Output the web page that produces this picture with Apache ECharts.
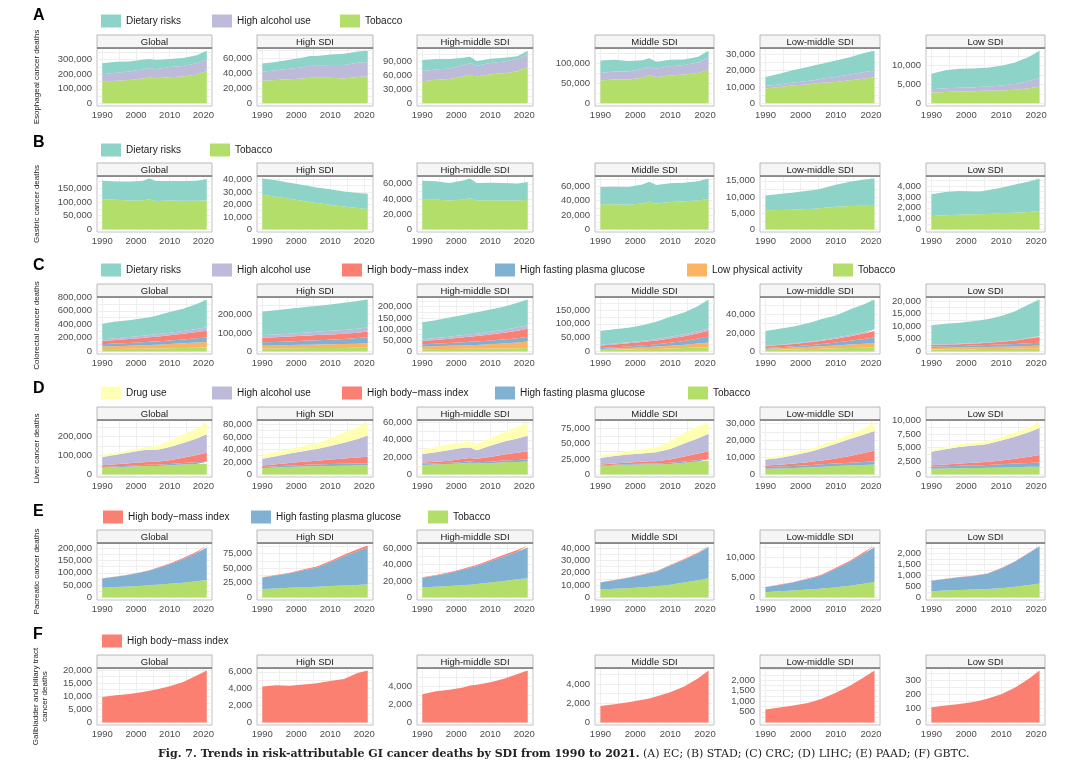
<!DOCTYPE html>
<html lang="en">
<head>
<meta charset="UTF-8">
<title>Fig. 7</title>
<script src="https://cdn.jsdelivr.net/npm/echarts@6/dist/echarts.min.js"></script>
<style>
  html, body { margin: 0; padding: 0; background: #fff; }
  #main { width: 1080px; height: 765px; }
</style>
</head>
<body>
<div id="main"></div>
<script>
// sampled years, shared by every panel
const YEARS = [1990, 1994, 1998, 2002, 2004, 2006, 2010, 2014, 2018, 2021];
const REGIONS = ['Global', 'High SDI', 'High-middle SDI', 'Middle SDI', 'Low-middle SDI', 'Low SDI'];
const X_LABELS = [1990, 2000, 2010, 2020];
const X_GRID = [1990, 1995, 2000, 2005, 2010, 2015, 2020];

// each array: one row per region (Global ... Low SDI), one value per year in YEARS
// A - esophageal
const A_DIET = [
  [76000, 75000, 70000, 68000, 62000, 62000, 55000, 55000, 55000, 60000],
  [11000, 11000, 12000, 13000, 13000, 13000, 14000, 15000, 15000, 15000],
  [23000, 22000, 20000, 16000, 14000, 10000, 9000, 8000, 6000, 7000],
  [31000, 29000, 26000, 22000, 22000, 17000, 16000, 14000, 15000, 17000],
  [5500, 6500, 7500, 8500, 9000, 9000, 10000, 10500, 11500, 12000],
  [4100, 4700, 5000, 5000, 4900, 5000, 5200, 5700, 6400, 7200]
];
const A_ALC = [
  [52000, 55000, 58000, 62000, 65000, 63000, 70000, 72000, 78000, 80000],
  [12000, 13000, 14000, 15000, 16000, 16000, 17000, 18000, 19000, 19000],
  [22000, 22000, 22000, 24000, 25000, 23000, 24000, 25000, 26000, 27000],
  [19000, 20000, 20000, 22000, 21000, 21000, 23000, 24000, 26000, 30000],
  [1500, 1500, 1700, 2000, 2200, 2500, 3000, 3500, 4000, 4000],
  [900, 1000, 1000, 1000, 1100, 1100, 1300, 1500, 1900, 2300]
];
const A_TOB = [
  [148000, 155000, 160000, 170000, 178000, 172000, 180000, 185000, 198000, 222000],
  [30000, 31000, 32000, 33000, 34000, 34000, 34000, 33000, 35000, 36000],
  [47000, 50000, 52000, 57000, 60000, 57000, 62000, 64000, 68000, 78000],
  [57000, 60000, 60000, 64000, 70000, 66000, 70000, 72000, 76000, 85000],
  [9000, 10000, 11000, 11500, 12000, 12500, 13000, 14000, 15000, 16000],
  [2800, 3000, 3100, 3200, 3300, 3300, 3400, 3600, 4000, 4400]
];
const A_TICKS = [[0, 100000, 200000, 300000], [0, 20000, 40000, 60000], [0, 30000, 60000, 90000],
  [0, 50000, 100000], [0, 10000, 20000, 30000], [0, 5000, 10000]];

// B - gastric
const B_DIET = [
  [66000, 66000, 68000, 71000, 76000, 73000, 71000, 72000, 73000, 77000],
  [13000, 13200, 12800, 12700, 12600, 12300, 12300, 12000, 12000, 12200],
  [24000, 24000, 23000, 25000, 26000, 23000, 23000, 23000, 22500, 23500],
  [23700, 24000, 24700, 26000, 27500, 25500, 26000, 25500, 26500, 28400],
  [4600, 4900, 5300, 5600, 5800, 6000, 6800, 7500, 8000, 8100],
  [2000, 2150, 2200, 2100, 2100, 2200, 2350, 2600, 2800, 3000]
];
const B_TOB = [
  [111000, 108000, 105000, 106000, 109000, 103000, 105000, 104000, 104000, 106000],
  [27700, 26200, 24500, 22800, 22000, 21200, 19800, 18400, 17200, 16300],
  [40000, 39500, 38000, 39500, 41000, 38000, 38500, 38000, 38000, 39000],
  [35000, 35000, 34000, 36000, 38500, 36000, 38000, 39000, 40000, 42000],
  [5900, 6000, 6100, 6300, 6400, 6600, 7000, 7200, 7400, 7600],
  [1250, 1300, 1350, 1400, 1400, 1420, 1500, 1550, 1620, 1700]
];
const B_TICKS = [[0, 50000, 100000, 150000], [0, 10000, 20000, 30000, 40000], [0, 20000, 40000, 60000],
  [0, 20000, 40000, 60000], [0, 5000, 10000, 15000], [0, 1000, 2000, 3000, 4000]];

// C - colorectal
const C_DIET = [
  [230000, 245000, 249000, 259000, 262000, 272000, 303000, 327000, 369000, 410000],
  [128000, 131000, 135000, 137000, 138500, 140000, 143000, 147000, 150000, 150000],
  [76000, 80500, 86500, 90000, 93500, 95500, 100500, 104000, 110000, 115000],
  [50000, 51500, 53000, 56500, 60000, 63000, 73000, 79000, 91500, 104000],
  [15900, 17200, 18300, 20200, 21200, 22600, 24000, 27500, 30000, 32000],
  [7700, 8160, 8410, 8730, 8990, 9240, 10120, 11460, 13340, 14600]
];
const C_ALC = [
  [25000, 27000, 29000, 32000, 34000, 35000, 38000, 42000, 46000, 50000],
  [14000, 15000, 16000, 17000, 17500, 18000, 19000, 20000, 21500, 23000],
  [7000, 8000, 9000, 10000, 10500, 11000, 12000, 13000, 15000, 16000],
  [2500, 3000, 3500, 4000, 4500, 5000, 6000, 7000, 8000, 9000],
  [400, 500, 600, 700, 800, 900, 1100, 1400, 1700, 2000],
  [100, 110, 120, 130, 140, 150, 180, 210, 260, 300]
];
const C_BMI = [
  [48000, 53000, 58000, 64000, 67000, 70000, 77000, 84000, 92000, 98000],
  [25000, 25500, 26000, 27000, 27500, 28000, 28500, 29000, 29500, 30000],
  [15000, 17000, 19000, 22000, 23000, 24000, 27000, 30000, 34000, 37000],
  [9500, 10500, 11500, 12500, 13000, 14000, 15500, 17000, 19000, 21000],
  [1900, 2200, 2600, 3000, 3300, 3600, 4300, 5000, 6000, 6800],
  [600, 650, 700, 800, 850, 900, 1100, 1400, 1900, 2300]
];
const C_HFPG = [
  [34000, 37000, 40000, 44000, 46000, 48000, 53000, 58000, 63000, 67000],
  [18000, 19000, 20000, 21500, 22000, 23000, 25000, 27000, 30000, 33000],
  [10000, 11000, 12500, 14000, 15000, 15500, 16500, 17500, 19000, 20000],
  [3500, 4500, 5500, 7000, 7500, 8500, 11000, 14000, 18000, 22000],
  [800, 1100, 1400, 1800, 2000, 2300, 3000, 4000, 5200, 6400],
  [600, 630, 670, 720, 750, 780, 850, 950, 1050, 1100]
];
const C_LPA = [
  [38000, 41000, 45000, 50000, 53000, 56000, 62000, 68000, 75000, 82000],
  [15000, 16000, 17000, 18000, 18500, 19000, 20000, 21000, 22500, 24000],
  [12000, 13000, 14000, 15500, 16000, 17000, 19000, 22000, 26000, 29000],
  [3500, 4500, 5500, 7000, 7500, 8500, 10000, 12000, 14500, 16500],
  [1500, 1700, 2000, 2300, 2500, 2700, 3200, 3800, 4300, 4600],
  [600, 630, 670, 720, 750, 780, 850, 950, 1080, 1200]
];
const C_TOB = [
  [35000, 37000, 39000, 41000, 43000, 44000, 47000, 51000, 55000, 58000],
  [16000, 16500, 17000, 17500, 18000, 18000, 18500, 19000, 19500, 20000],
  [10000, 10500, 11000, 11500, 12000, 12000, 13000, 13500, 14000, 15000],
  [5000, 6000, 7000, 8000, 8500, 9000, 10500, 12000, 14000, 15500],
  [1500, 1800, 2100, 2500, 2700, 2900, 3300, 3600, 3900, 4200],
  [800, 820, 850, 900, 920, 950, 1000, 1030, 1070, 1100]
];
const C_TICKS = [[0, 200000, 400000, 600000, 800000], [0, 100000, 200000], [0, 50000, 100000, 150000, 200000],
  [0, 50000, 100000, 150000], [0, 20000, 40000], [0, 5000, 10000, 15000, 20000]];

// D - liver
const D_DRUG = [
  [11000, 11500, 11000, 12500, 16000, 21000, 31500, 45500, 51500, 62000],
  [6100, 6800, 7600, 7900, 8800, 9200, 12500, 16400, 19100, 20800],
  [4900, 6200, 6600, 6000, 6900, 6900, 8700, 11000, 13300, 15100],
  [3700, 4300, 5700, 7100, 7700, 8000, 12300, 17000, 19200, 18000],
  [1000, 1100, 1300, 1500, 1700, 1800, 2200, 2600, 3500, 4900],
  [360, 400, 450, 500, 500, 550, 600, 750, 900, 1000]
];
const D_ALC = [
  [44000, 50000, 57000, 63000, 64000, 62000, 70000, 78000, 88000, 97000],
  [10500, 13000, 15000, 17000, 18000, 19000, 21500, 25000, 30000, 34000],
  [10000, 11000, 12500, 13000, 12000, 10000, 13000, 15000, 16500, 18000],
  [10800, 12000, 13000, 13500, 14000, 14500, 17000, 21000, 25000, 28500],
  [3500, 4000, 4800, 5800, 6400, 7200, 8600, 10000, 10800, 11400],
  [2500, 2800, 3100, 3200, 3200, 3300, 3700, 4100, 4600, 5000]
];
const D_BMI = [
  [9000, 11000, 13000, 15000, 15000, 15500, 20000, 28000, 38000, 48000],
  [2400, 3000, 4000, 5000, 5500, 6000, 7500, 8500, 9500, 10500],
  [1500, 2000, 2500, 3500, 4000, 4000, 5500, 7000, 8500, 9500],
  [1500, 2000, 2500, 3000, 3500, 4000, 5500, 8000, 10500, 12500],
  [900, 1100, 1400, 1800, 2000, 2300, 3000, 4000, 5300, 6400],
  [260, 320, 400, 480, 520, 560, 700, 900, 1150, 1400]
];
const D_HFPG = [
  [4000, 4500, 5000, 5500, 6000, 6500, 7500, 8500, 9500, 10000],
  [2000, 2200, 2400, 2600, 2700, 2800, 3000, 3100, 3200, 3300],
  [1200, 1300, 1400, 1500, 1600, 1600, 1800, 2000, 2200, 2400],
  [1100, 1200, 1300, 1400, 1500, 1500, 1700, 2000, 2300, 2500],
  [1000, 1100, 1200, 1300, 1350, 1400, 1500, 1600, 1800, 1900],
  [380, 420, 460, 500, 520, 540, 600, 660, 720, 760]
];
const D_TOB = [
  [35000, 38000, 41000, 44000, 45000, 45000, 48000, 52000, 55000, 57000],
  [10000, 11000, 12000, 12500, 13000, 13000, 13500, 14000, 14200, 14400],
  [11000, 11500, 12000, 13000, 13500, 12500, 13000, 14000, 14500, 15000],
  [13400, 14500, 15500, 16000, 16300, 16000, 17000, 19000, 21000, 22500],
  [3300, 3500, 3800, 4100, 4300, 4500, 4900, 5200, 5500, 5800],
  [1060, 1100, 1140, 1180, 1200, 1220, 1280, 1340, 1400, 1440]
];
const D_TICKS = [[0, 100000, 200000], [0, 20000, 40000, 60000, 80000], [0, 20000, 40000, 60000],
  [0, 25000, 50000, 75000], [0, 10000, 20000, 30000], [0, 2500, 5000, 7500, 10000]];

// E - pancreatic
const E_BMI = [
  [600, 800, 1100, 1500, 1800, 2100, 3000, 4200, 5800, 7500],
  [600, 800, 1000, 1300, 1500, 1700, 2200, 2700, 3200, 3600],
  [500, 700, 900, 1100, 1200, 1300, 1600, 1900, 2100, 2200],
  [100, 150, 200, 300, 350, 400, 500, 700, 900, 1000],
  [50, 70, 90, 120, 140, 160, 220, 280, 340, 380],
  [8, 9, 10, 12, 13, 14, 17, 21, 26, 30]
];
const E_HFPG = [
  [37500, 42000, 48000, 56000, 60000, 66000, 80000, 96000, 114000, 132000],
  [19500, 22000, 25000, 29000, 31000, 33000, 41000, 50000, 58000, 63000],
  [11800, 13500, 16000, 19000, 20500, 22000, 26000, 30000, 33500, 37500],
  [5600, 7000, 8400, 10000, 11000, 11800, 15500, 18500, 21500, 25500],
  [1250, 1600, 2050, 2600, 2900, 3300, 4600, 5900, 7500, 8600],
  [480, 530, 580, 620, 660, 700, 900, 1150, 1460, 1700]
];
const E_TOB = [
  [39500, 42000, 44000, 47000, 49000, 51000, 55000, 60000, 66000, 71000],
  [14500, 15500, 16500, 17500, 18000, 18500, 19500, 20500, 21500, 22400],
  [12200, 13000, 13800, 14800, 15500, 16200, 18000, 20000, 22000, 23300],
  [6500, 7000, 7500, 8200, 8600, 9000, 10300, 12000, 14000, 15500],
  [1300, 1500, 1700, 1950, 2050, 2200, 2500, 2900, 3400, 3850],
  [280, 310, 340, 360, 370, 380, 420, 480, 560, 630]
];
const E_TICKS = [[0, 50000, 100000, 150000, 200000], [0, 25000, 50000, 75000], [0, 20000, 40000, 60000],
  [0, 10000, 20000, 30000, 40000], [0, 5000, 10000], [0, 500, 1000, 1500, 2000]];

// F - gallbladder and biliary tract
const F_BMI = [
  [9700, 10400, 10900, 11600, 12100, 12600, 13800, 15400, 17900, 19800],
  [4250, 4400, 4350, 4500, 4550, 4650, 4900, 5150, 5850, 6150],
  [3100, 3420, 3600, 3850, 4050, 4150, 4430, 4800, 5330, 5700],
  [1700, 1900, 2100, 2350, 2500, 2700, 3150, 3750, 4600, 5400],
  [615, 700, 800, 920, 1010, 1120, 1400, 1730, 2130, 2450],
  [108, 122, 133, 147, 158, 170, 203, 250, 315, 372]
];
const F_TICKS = [[0, 5000, 10000, 15000, 20000], [0, 2000, 4000, 6000], [0, 2000, 4000],
  [0, 2000, 4000], [0, 500, 1000, 1500, 2000], [0, 100, 200, 300]];

// ggplot Set3 colours
const COLORS = {
  'Dietary risks': '#8DD3C7',
  'Drug use': '#FFFFB3',
  'High alcohol use': '#BEBADA',
  'High body\u2212mass index': '#FB8072',
  'High fasting plasma glucose': '#80B1D3',
  'Low physical activity': '#FDB462',
  'Tobacco': '#B3DE69'
};
const BMI = 'High body\u2212mass index';

// stack lists run bottom -> top
const ROWS = [
  { letter: 'A', title: 'Esophageal cancer deaths', ticks: A_TICKS,
    legend: ['Dietary risks', 'High alcohol use', 'Tobacco'],
    stack: [['Tobacco', A_TOB], ['High alcohol use', A_ALC], ['Dietary risks', A_DIET]] },
  { letter: 'B', title: 'Gastric cancer deaths', ticks: B_TICKS,
    legend: ['Dietary risks', 'Tobacco'],
    stack: [['Tobacco', B_TOB], ['Dietary risks', B_DIET]] },
  { letter: 'C', title: 'Colorectal cancer deaths', ticks: C_TICKS,
    legend: ['Dietary risks', 'High alcohol use', BMI, 'High fasting plasma glucose', 'Low physical activity', 'Tobacco'],
    stack: [['Tobacco', C_TOB], ['Low physical activity', C_LPA], ['High fasting plasma glucose', C_HFPG],
            [BMI, C_BMI], ['High alcohol use', C_ALC], ['Dietary risks', C_DIET]] },
  { letter: 'D', title: 'Liver cancer deaths', ticks: D_TICKS,
    legend: ['Drug use', 'High alcohol use', BMI, 'High fasting plasma glucose', 'Tobacco'],
    stack: [['Tobacco', D_TOB], ['High fasting plasma glucose', D_HFPG], [BMI, D_BMI],
            ['High alcohol use', D_ALC], ['Drug use', D_DRUG]] },
  { letter: 'E', title: 'Pacreatic cancer deaths', ticks: E_TICKS,
    legend: [BMI, 'High fasting plasma glucose', 'Tobacco'],
    stack: [['Tobacco', E_TOB], ['High fasting plasma glucose', E_HFPG], [BMI, E_BMI]] },
  { letter: 'F', title: 'Gallbladder and biliary tract\ncancer deaths', ticks: F_TICKS,
    legend: [BMI],
    stack: [[BMI, F_BMI]] }
];

// layout (pixels)
const COL_L = [97, 257, 417, 595, 760, 926];
const COL_R = [212, 373, 533, 714, 880, 1045];
const PLOT_TOP = [48, 176, 297, 420, 543, 668];
const PLOT_BOT = [106, 232, 354, 477, 600, 725];
const STRIP_H = 13;
const LEGEND_Y = [21, 150, 270, 393, 517, 641];
const LEGEND_X = [[101, 212, 340], [101, 210], [101, 212, 342, 495, 687, 833],
  [101, 212, 342, 495, 688], [103, 251, 428], [102]];
const LETTER_Y = [16, 143, 266, 389, 512, 635];

const SANS = '"Liberation Sans", Arial, Helvetica, sans-serif';
const SERIF = '"DejaVu Serif", "Liberation Serif", serif';

const chart = echarts.init(document.getElementById('main'));
const option = {
  animation: false,
  backgroundColor: '#ffffff',
  grid: [], xAxis: [], yAxis: [], series: [], legend: [], graphic: []
};

ROWS.forEach(function (row, r) {
  REGIONS.forEach(function (region, c) {
    const gi = r * 6 + c;
    const top = PLOT_TOP[r], bot = PLOT_BOT[r];
    option.grid.push({
      left: COL_L[c], top: top, width: COL_R[c] - COL_L[c], height: bot - top,
      show: true, borderColor: '#b3b3b3', borderWidth: 0.8, backgroundColor: '#ffffff',
      containLabel: false, outerBoundsMode: 'none'
    });

    // ggplot-style 5% padding around the stacked range
    let peak = 0;
    YEARS.forEach(function (yr, i) {
      let s = 0;
      row.stack.forEach(function (item) { s += item[1][c][i]; });
      peak = Math.max(peak, s);
    });
    const ticks = row.ticks[c];
    const half = (ticks[1] - ticks[0]) / 2;
    const ymin = -0.05 * peak, ymax = 1.05 * peak;
    const yGrid = [];
    for (let k = Math.ceil(ymin / half); k * half <= ymax; k++) yGrid.push(k * half);

    option.xAxis.push({
      gridIndex: gi, type: 'value', min: 1988.45, max: 2022.55,
      axisLine: { show: false },
      axisTick: { show: false, customValues: X_GRID },
      axisLabel: { customValues: X_LABELS, fontSize: 9.5, color: '#4d4d4d', margin: 4,
        fontFamily: SANS, formatter: function (v) { return String(v); } },
      splitLine: { show: true, lineStyle: { color: '#ebebeb', width: 0.8 } }
    });
    option.yAxis.push({
      gridIndex: gi, type: 'value', min: ymin, max: ymax,
      axisLine: { show: false },
      axisTick: { show: false, customValues: yGrid },
      axisLabel: { customValues: ticks, fontSize: 9.5, color: '#4d4d4d', margin: 5,
        fontFamily: SANS, formatter: function (v) { return Number(v).toLocaleString('en-US'); } },
      splitLine: { show: true, lineStyle: { color: '#ebebeb', width: 0.8 } }
    });

    row.stack.forEach(function (item) {
      const name = item[0], vals = item[1][c];
      const col = COLORS[name];
      option.series.push({
        type: 'line', name: name, xAxisIndex: gi, yAxisIndex: gi, stack: 'p' + gi,
        symbol: 'none', showSymbol: false, silent: true,
        lineStyle: { width: 0, color: col },
        itemStyle: { color: col },
        areaStyle: { color: col, opacity: 1 },
        encode: { x: 1, y: 0 },
        data: YEARS.map(function (yr, i) { return [vals[i], yr]; })
      });
    });

    // facet strip
    const sx = COL_L[c], sw = COL_R[c] - COL_L[c], sy = top - STRIP_H;
    option.graphic.push({
      type: 'rect', shape: { x: sx, y: sy, width: sw, height: STRIP_H },
      style: { fill: '#f5f5f5', stroke: '#a8a8a8', lineWidth: 0.8 }, silent: true, z: 10
    });
    option.graphic.push({
      type: 'line', shape: { x1: sx, y1: top, x2: sx + sw, y2: top },
      style: { stroke: '#4d4d4d', lineWidth: 1 }, silent: true, z: 11
    });
    option.graphic.push({
      type: 'text', x: sx + sw / 2, y: sy + STRIP_H / 2 + 0.5, silent: true, z: 11,
      style: { text: region, fontSize: 9.5, fill: '#1a1a1a', fontFamily: SANS,
        align: 'center', verticalAlign: 'middle' }
    });
  });

  // one legend component per key, placed like the ggplot legend row
  row.legend.forEach(function (name, k) {
    option.legend.push({
      left: LEGEND_X[r][k], top: LEGEND_Y[r] - 6.5, padding: 0, orient: 'horizontal',
      itemWidth: 20, itemHeight: 13, icon: 'rect', selectedMode: false,
      itemStyle: { borderWidth: 0 },
      data: [name],
      textStyle: { fontSize: 10, color: '#1a1a1a', fontFamily: SANS }
    });
  });

  // panel letter
  option.graphic.push({
    type: 'text', x: 33, y: LETTER_Y[r], silent: true,
    style: { text: row.letter, fontSize: 16, fontWeight: 'bold', fill: '#000', fontFamily: SANS,
      align: 'left', verticalAlign: 'middle' }
  });
  // row y-axis title
  option.graphic.push({
    type: 'text', x: r === 5 ? 40 : 37, y: (PLOT_TOP[r] + PLOT_BOT[r]) / 2, rotation: Math.PI / 2, silent: true,
    style: { text: row.title, fontSize: 8, fill: '#1a1a1a', fontFamily: SANS,
      align: 'center', verticalAlign: 'middle', lineHeight: 9 }
  });
});

// caption
option.graphic.push({
  type: 'text', x: 158, y: 754, silent: true,
  style: {
    text: '{b|Fig. 7. Trends in risk-attributable GI cancer deaths by SDI from 1990 to 2021.} {n|(A) EC; (B) STAD; (C) CRC; (D) LIHC; (E) PAAD; (F) GBTC.}',
    verticalAlign: 'middle', align: 'left',
    rich: {
      b: { fontFamily: SERIF, fontWeight: 'bold', fontSize: 11, fill: '#222' },
      n: { fontFamily: SERIF, fontSize: 11, fill: '#222' }
    }
  }
});

chart.setOption(option);
</script>
</body>
</html>
